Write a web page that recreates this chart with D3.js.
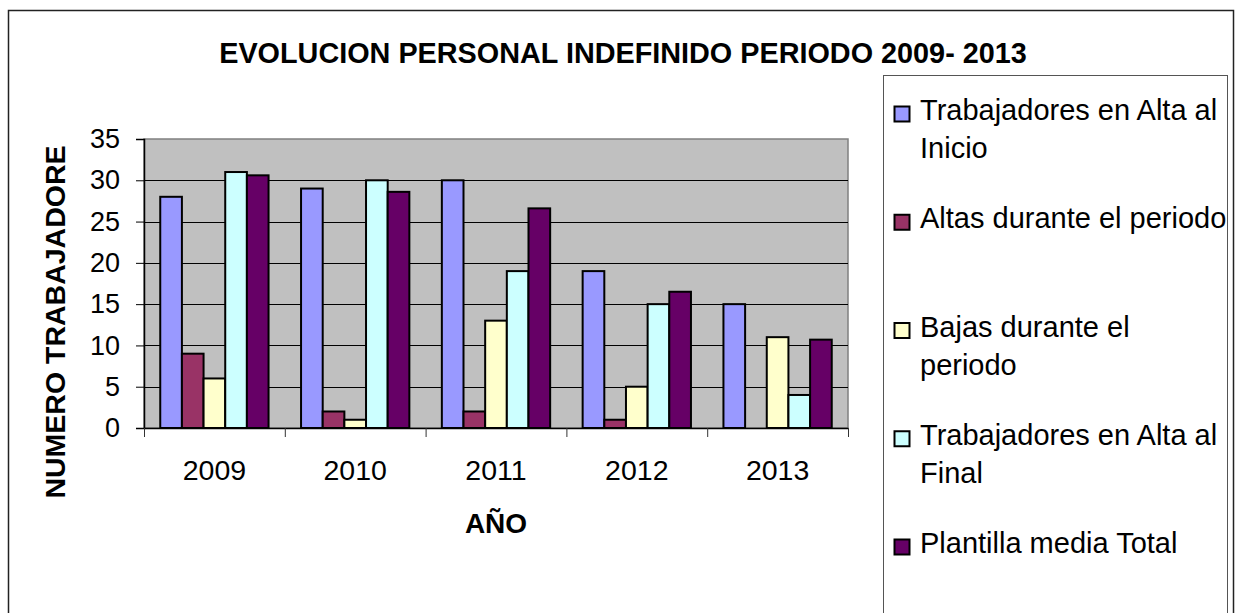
<!DOCTYPE html>
<html>
<head>
<meta charset="utf-8">
<script src="https://cdn.jsdelivr.net/npm/d3@7"></script>
<style>
  body { margin: 0; background: #fff; }
  svg text { font-family: "Liberation Sans", Arial, sans-serif; }
</style>
</head>
<body>
<div id="chart"></div>
<script>
// values
const years = ["2009", "2010", "2011", "2012", "2013"];
const seriesNames = [
  "Trabajadores en Alta al Inicio",
  "Altas durante el periodo",
  "Bajas durante el periodo",
  "Trabajadores en Alta al Final",
  "Plantilla media Total"
];
const altaInicio = [28, 29, 30, 19, 15];
const altasPeriodo = [9, 2, 2, 1, 0];
const bajasPeriodo = [6, 1, 13, 5, 11];
const altaFinal = [31, 30, 19, 15, 4];
const plantillaMedia = [30.6, 28.6, 26.6, 16.5, 10.7];
const yTicks = [0, 5, 10, 15, 20, 25, 30, 35];
const colors = ["#9999FF", "#993366", "#FFFFCC", "#CCFFFF", "#660066"];
// legend labels, wrapped as in the picture
const legendLines = [
  ["Trabajadores en Alta al", "Inicio"],
  ["Altas durante el periodo"],
  ["Bajas durante el", "periodo"],
  ["Trabajadores en Alta al", "Final"],
  ["Plantilla media Total"]
];

const allValues = [altaInicio, altasPeriodo, bajasPeriodo, altaFinal, plantillaMedia];

const width = 1239, height = 613;
const plot = { left: 144, right: 848, top: 139, bottom: 428 };

const svg = d3.select("#chart")
  .append("svg")
  .attr("width", width)
  .attr("height", height);

// outer chart border
svg.append("rect")
  .attr("x", 8.5).attr("y", 10.5)
  .attr("width", 1225).attr("height", 640)
  .attr("fill", "#fff")
  .attr("stroke", "#222")
  .attr("stroke-width", 1.5);

// title
svg.append("text")
  .attr("x", 623)
  .attr("y", 63)
  .attr("text-anchor", "middle")
  .style("font-size", "28.8px")
  .style("font-weight", "bold")
  .text("EVOLUCION PERSONAL INDEFINIDO PERIODO 2009- 2013");

const x0 = d3.scaleBand()
  .domain(years)
  .range([plot.left, plot.right])
  .padding(0);

const x1 = d3.scaleBand()
  .domain(d3.range(seriesNames.length))
  .range([0, x0.bandwidth()])
  .paddingInner(0)
  .paddingOuter(0.75);

const y = d3.scaleLinear()
  .domain([0, 35])
  .range([plot.bottom, plot.top]);

// plot background
svg.append("rect")
  .attr("x", plot.left)
  .attr("y", plot.top)
  .attr("width", plot.right - plot.left)
  .attr("height", plot.bottom - plot.top)
  .attr("fill", "#C0C0C0")
  .attr("stroke", "#808080")
  .attr("stroke-width", 1.5);

// gridlines
svg.append("g")
  .selectAll("line")
  .data(yTicks.filter(t => t > 0 && t < 35))
  .join("line")
  .attr("x1", plot.left)
  .attr("x2", plot.right)
  .attr("y1", d => Math.round(y(d)) + 0.5)
  .attr("y2", d => Math.round(y(d)) + 0.5)
  .attr("stroke", "#000")
  .attr("stroke-width", 1);

// bars
const groups = svg.append("g")
  .selectAll("g")
  .data(years)
  .join("g")
  .attr("transform", d => `translate(${x0(d)},0)`);

groups.selectAll("rect")
  .data((yr, i) => allValues.map((vals, s) => ({ s, v: vals[i] })).filter(d => d.v > 0))
  .join("rect")
  .attr("x", d => x1(d.s))
  .attr("width", x1.bandwidth())
  .attr("y", d => y(d.v))
  .attr("height", d => y(0) - y(d.v))
  .attr("fill", d => colors[d.s])
  .attr("stroke", "#000")
  .attr("stroke-width", 2);

// y axis
const yAxis = svg.append("g")
  .attr("transform", `translate(${plot.left},0)`)
  .call(d3.axisLeft(y).tickValues(yTicks).tickSize(8).tickPadding(16).tickFormat(d3.format("d")));
yAxis.select(".domain").attr("stroke", "#000").attr("stroke-width", 1.5);
yAxis.selectAll(".tick line").attr("stroke", "#000");
yAxis.selectAll(".tick text")
  .style("font-size", "27px")
  .attr("fill", "#000");

// x axis, ticks at category boundaries
const xAxis = svg.append("g")
  .attr("transform", `translate(0,${plot.bottom})`)
  .call(d3.axisBottom(x0).tickSize(0).tickPadding(32));
xAxis.select(".domain").attr("stroke", "#000").attr("stroke-width", 1.5);
xAxis.selectAll(".tick text")
  .style("font-size", "28.5px")
  .attr("fill", "#000");

svg.append("g")
  .selectAll("line")
  .data(years.map(d => x0(d)).concat([plot.right]))
  .join("line")
  .attr("x1", d => d + 0.5)
  .attr("x2", d => d + 0.5)
  .attr("y1", plot.bottom)
  .attr("y2", plot.bottom + 9)
  .attr("stroke", "#333");

// axis titles
svg.append("text")
  .attr("x", (plot.left + plot.right) / 2)
  .attr("y", 533)
  .attr("text-anchor", "middle")
  .style("font-size", "28px")
  .style("font-weight", "bold")
  .text("AÑO");

svg.append("text")
  .attr("transform", "translate(65,322) rotate(-90)")
  .attr("text-anchor", "middle")
  .style("font-size", "28.5px")
  .style("font-weight", "bold")
  .text("NUMERO TRABAJADORE");

// legend
svg.append("rect")
  .attr("x", 883.5).attr("y", 75.5)
  .attr("width", 344).attr("height", 600)
  .attr("fill", "#fff")
  .attr("stroke", "#555")
  .attr("stroke-width", 1);

const legendY = d3.scaleLinear().domain([0, 4]).range([120, 553]);

const legend = svg.append("g")
  .selectAll("g")
  .data(legendLines)
  .join("g")
  .attr("transform", (d, i) => `translate(894,${legendY(i)})`);

legend.append("rect")
  .attr("x", 0.5)
  .attr("y", -13.5)
  .attr("width", 15)
  .attr("height", 15)
  .attr("fill", (d, i) => colors[i])
  .attr("stroke", "#000")
  .attr("stroke-width", 2);

legend.append("text")
  .attr("x", 26)
  .style("font-size", "29px")
  .selectAll("tspan")
  .data(d => d)
  .join("tspan")
  .attr("x", 26)
  .attr("y", (d, i) => i * 38)
  .text(d => d);
</script>
</body>
</html>
